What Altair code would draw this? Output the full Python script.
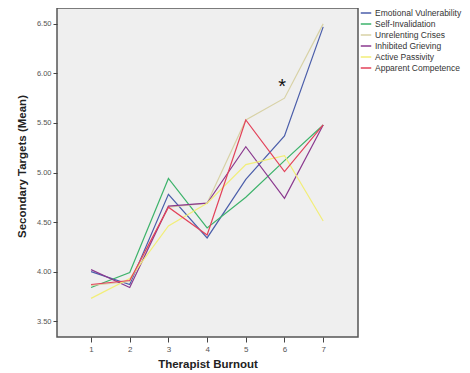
import altair as alt
import pandas as pd

burnout = [1, 2, 3, 4, 5, 6, 7]
series_names = [
    "Emotional Vulnerability",
    "Self-Invalidation",
    "Unrelenting Crises",
    "Inhibited Grieving",
    "Active Passivity",
    "Apparent Competence",
]
emotional_vulnerability = [4.00, 3.87, 4.78, 4.34, 4.93, 5.37, 6.47]
self_invalidation = [3.84, 3.99, 4.94, 4.44, 4.75, 5.12, 5.48]
unrelenting_crises = [3.86, 3.90, 4.65, 4.69, 5.53, 5.75, 6.50]
inhibited_grieving = [4.02, 3.84, 4.66, 4.69, 5.26, 4.74, 5.48]
active_passivity = [3.73, 3.93, 4.46, 4.69, 5.08, 5.17, 4.51]
apparent_competence = [3.87, 3.91, 4.65, 4.37, 5.53, 5.01, 5.48]
colors = ["#4B5EAA", "#3DB36B", "#D8D2A6", "#8B3A8F", "#F2EE78", "#E3425A"]
y_ticks = [3.5, 4.0, 4.5, 5.0, 5.5, 6.0, 6.5]
marker_x = [5.94]
marker_y = [5.90]

all_series = [emotional_vulnerability, self_invalidation, unrelenting_crises,
              inhibited_grieving, active_passivity, apparent_competence]
rows = []
for name, vals in zip(series_names, all_series):
    for xv, yv in zip(burnout, vals):
        rows.append({"Therapist Burnout": xv, "value": yv, "series": name})
df = pd.DataFrame(rows)

font = "Liberation Sans"
xscale = alt.Scale(domain=[0.12, 7.9], nice=False, zero=False)
yscale = alt.Scale(domain=[3.34, 6.66], nice=False, zero=False)

lines = alt.Chart(df).mark_line(strokeWidth=1.2).encode(
    x=alt.X("Therapist Burnout:Q", scale=xscale,
            axis=alt.Axis(values=burnout, format="d", grid=False, domain=False,
                          tickSize=5, tickColor="#444", labelColor="#555",
                          labelFontSize=8, labelFont=font, labelPadding=3,
                          title="Therapist Burnout", titleFont=font,
                          titleFontSize=11.5, titleFontWeight="bold",
                          titleColor="#222", titleY=27, titleBaseline="middle")),
    y=alt.Y("value:Q", scale=yscale,
            axis=alt.Axis(values=y_ticks, format=".2f", grid=False, domain=False,
                          tickSize=4, tickColor="#444", labelColor="#555",
                          labelFontSize=7.5, labelFont=font, labelPadding=2,
                          title="Secondary Targets (Mean)", titleFont=font,
                          titleFontSize=11.5, titleFontWeight="bold",
                          titleColor="#222", titleX=-35, titleY=158,
                          titleBaseline="middle")),
    color=alt.Color("series:N",
                    scale=alt.Scale(domain=series_names, range=colors),
                    legend=alt.Legend(title=None, orient="none", legendX=303,
                                      legendY=-1, symbolType="stroke",
                                      symbolSize=110, symbolStrokeWidth=1.5,
                                      labelFont=font, labelFontSize=8.5,
                                      labelColor="#333", rowPadding=0,
                                      labelOffset=3)),
    order=alt.Order("Therapist Burnout:Q"),
)

mdf = pd.DataFrame({"x": marker_x, "y": marker_y})
star = alt.Chart(mdf).mark_text(text="*", fontSize=20, font=font, color="#111",
                                baseline="middle", dy=4).encode(
    x=alt.X("x:Q", scale=xscale), y=alt.Y("y:Q", scale=yscale))

chart = alt.layer(lines, star).properties(
    width=301, height=329,
    autosize=alt.AutoSizeParams(type="none"),
    padding={"left": 49, "top": 0, "right": 104, "bottom": 33},
    background="white",
).configure_view(stroke="#555", strokeWidth=1.5, fill="#EFEFEF")

chart.save("out.html", embed_options={"renderer": "svg", "actions": False})
